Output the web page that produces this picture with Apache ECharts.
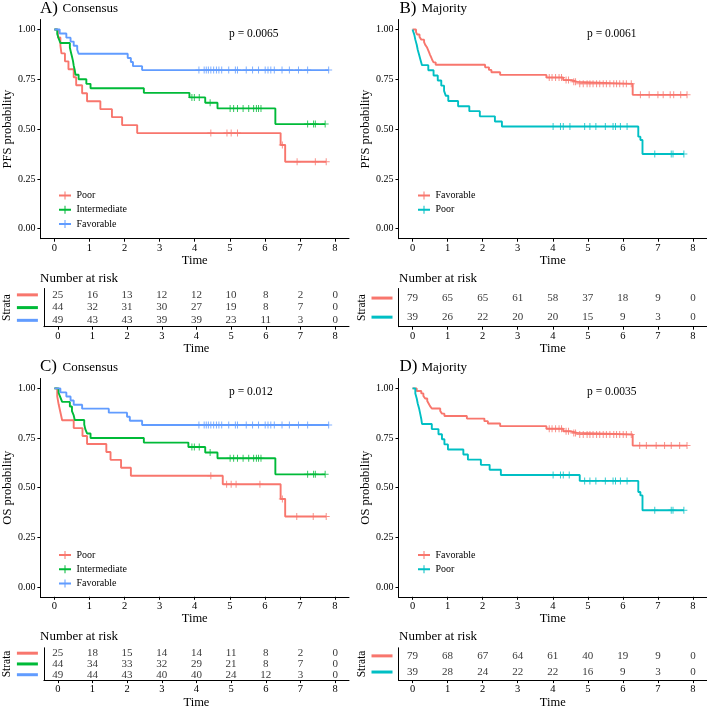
<!DOCTYPE html>
<html><head><meta charset="utf-8">
<script src="https://cdn.jsdelivr.net/npm/echarts@6/dist/echarts.min.js"></script>
<style>html,body{margin:0;padding:0;background:#fff}#c{width:707px;height:710px}</style>
</head><body><div id="c"></div>
<script>
// ---------- tick labels ----------
const xTicks = [0, 1, 2, 3, 4, 5, 6, 7, 8];
const yTicks = [0, 0.25, 0.5, 0.75, 1];

// ---------- colours ----------
const RED = '#F8766D', GREEN = '#00BA38', BLUE = '#619CFF', CYAN = '#00BFC4';

// ---------- Panel A: PFS, Consensus ----------
const aPoorT = [0, 0.1, 0.17, 0.2, 0.3, 0.4, 0.55, 0.62, 0.79, 0.93, 1.31, 1.64, 1.93, 2.36, 6.45, 6.58, 7.75];
const aPoorS = [1, 0.96, 0.92, 0.88, 0.84, 0.80, 0.76, 0.72, 0.68, 0.64, 0.60, 0.56, 0.52, 0.48, 0.42, 0.336, 0.336];
const aPoorC = [4.46, 4.92, 5.04, 5.22, 6.5, 6.92, 7.44, 7.75];
const aIntT = [0, 0.08, 0.12, 0.17, 0.44, 0.47, 0.5, 0.53, 0.55, 0.58, 0.6, 0.69, 0.91, 1.03, 2.55, 3.85, 4.3, 4.65, 6.3, 7.72];
const aIntS = [1, 0.977, 0.955, 0.932, 0.909, 0.886, 0.864, 0.841, 0.818, 0.795, 0.773, 0.750, 0.727, 0.705, 0.682, 0.659, 0.632, 0.604, 0.525, 0.525];
const aIntC = [3.92, 3.99, 4.13, 4.44, 5.01, 5.11, 5.22, 5.38, 5.54, 5.68, 5.76, 5.82, 5.89, 7.22, 7.39, 7.44, 7.72];
const aFavT = [0, 0.15, 0.34, 0.46, 0.55, 0.65, 0.69, 2.09, 2.18, 2.24, 2.5, 7.82];
const aFavS = [1, 0.980, 0.959, 0.939, 0.918, 0.898, 0.878, 0.857, 0.837, 0.816, 0.796, 0.796];
const aFavC = [4.12, 4.27, 4.33, 4.39, 4.46, 4.54, 4.62, 4.69, 4.77, 4.97, 5.16, 5.22, 5.47, 5.65, 5.82, 6.01, 6.09, 6.17, 6.27, 6.49, 6.70, 6.96, 7.22, 7.82];
const aRiskPoor = [25, 16, 13, 12, 12, 10, 8, 2, 0];
const aRiskInt = [44, 32, 31, 30, 27, 19, 8, 7, 0];
const aRiskFav = [49, 43, 43, 39, 39, 23, 11, 3, 0];

// ---------- Panel B: PFS, Majority ----------
const bFavT = [0, 0.1, 0.13, 0.2, 0.25, 0.33, 0.36, 0.41, 0.44, 0.47, 0.5, 0.53, 0.56, 0.6, 0.66, 2.07, 2.18, 2.25, 2.5, 3.82, 4.3, 4.55, 4.7, 6.28, 7.83];
const bFavS = [1, 0.987, 0.975, 0.962, 0.949, 0.937, 0.924, 0.911, 0.899, 0.886, 0.873, 0.861, 0.848, 0.835, 0.823, 0.810, 0.797, 0.785, 0.772, 0.759, 0.746, 0.737, 0.727, 0.672, 0.672];
const bFavC = [3.9, 3.98, 4.08, 4.18, 4.25, 4.38, 4.45, 4.6, 4.65, 4.77, 4.87, 4.98, 5.06, 5.15, 5.25, 5.34, 5.44, 5.53, 5.63, 5.74, 5.82, 5.91, 6.01, 6.1, 6.24, 6.5, 6.75, 7.0, 7.15, 7.35, 7.45, 7.65, 7.83];
const bPoorT = [0, 0.05, 0.08, 0.12, 0.15, 0.19, 0.23, 0.27, 0.45, 0.6, 0.72, 0.82, 0.9, 0.95, 1.02, 1.3, 1.62, 1.92, 2.35, 2.55, 6.44, 6.5, 6.56, 7.74];
const bPoorS = [1, 0.974, 0.949, 0.923, 0.897, 0.872, 0.846, 0.821, 0.795, 0.769, 0.744, 0.718, 0.692, 0.667, 0.641, 0.615, 0.590, 0.564, 0.538, 0.513, 0.462, 0.445, 0.375, 0.375];
const bPoorC = [4.01, 4.22, 4.3, 4.49, 4.91, 5.06, 5.23, 5.5, 5.72, 5.79, 5.93, 6.12, 6.91, 7.38, 7.43, 7.74];
const bRiskFav = [79, 65, 65, 61, 58, 37, 18, 9, 0];
const bRiskPoor = [39, 26, 22, 20, 20, 15, 9, 3, 0];

// ---------- Panel C: OS, Consensus ----------
const cPoorT = [0, 0.08, 0.12, 0.17, 0.22, 0.55, 0.8, 0.93, 1.48, 1.6, 1.9, 2.18, 4.8, 6.45, 6.58, 7.75];
const cPoorS = [1, 0.96, 0.92, 0.88, 0.84, 0.80, 0.76, 0.72, 0.68, 0.64, 0.60, 0.56, 0.517, 0.443, 0.355, 0.355];
const cPoorC = [4.46, 4.91, 5.04, 5.18, 5.86, 6.5, 6.91, 7.38, 7.75];
const cIntT = [0, 0.12, 0.17, 0.22, 0.44, 0.5, 0.55, 0.58, 0.85, 0.88, 0.93, 1.03, 2.55, 3.82, 4.3, 4.65, 6.3, 7.72];
const cIntS = [1, 0.977, 0.955, 0.932, 0.909, 0.886, 0.864, 0.841, 0.818, 0.795, 0.773, 0.750, 0.727, 0.705, 0.677, 0.648, 0.567, 0.567];
const cIntC = [3.92, 3.99, 4.13, 4.44, 5.01, 5.11, 5.22, 5.38, 5.54, 5.68, 5.76, 5.82, 5.89, 7.22, 7.39, 7.44, 7.72];
const cFavT = [0, 0.17, 0.34, 0.46, 0.55, 0.79, 1.55, 2.07, 2.15, 2.5, 7.82];
const cFavS = [1, 0.980, 0.959, 0.939, 0.918, 0.898, 0.878, 0.857, 0.837, 0.816, 0.816];
const cFavC = [4.12, 4.27, 4.33, 4.39, 4.46, 4.54, 4.62, 4.69, 4.77, 4.97, 5.16, 5.22, 5.47, 5.65, 5.82, 6.01, 6.09, 6.17, 6.27, 6.49, 6.70, 6.96, 7.22, 7.82];
const cRiskPoor = [25, 18, 15, 14, 14, 11, 8, 2, 0];
const cRiskInt = [44, 34, 33, 32, 29, 21, 8, 7, 0];
const cRiskFav = [49, 44, 43, 40, 40, 24, 12, 3, 0];

// ---------- Panel D: OS, Majority ----------
const dFavT = [0, 0.12, 0.25, 0.31, 0.36, 0.42, 0.46, 0.5, 0.55, 0.79, 0.84, 0.91, 1.55, 2.05, 2.15, 2.5, 3.82, 4.3, 4.5, 4.7, 6.28, 7.83];
const dFavS = [1, 0.987, 0.975, 0.962, 0.949, 0.937, 0.924, 0.911, 0.899, 0.886, 0.873, 0.861, 0.848, 0.835, 0.823, 0.810, 0.797, 0.784, 0.776, 0.768, 0.712, 0.712];
const dFavC = [3.9, 3.98, 4.08, 4.18, 4.25, 4.38, 4.45, 4.6, 4.65, 4.77, 4.87, 4.98, 5.06, 5.15, 5.25, 5.34, 5.44, 5.53, 5.63, 5.74, 5.82, 5.91, 6.01, 6.1, 6.24, 6.48, 6.67, 6.95, 7.19, 7.38, 7.62, 7.83];
const dPoorT = [0, 0.08, 0.12, 0.15, 0.19, 0.22, 0.25, 0.27, 0.55, 0.74, 0.84, 0.91, 1.01, 1.45, 1.58, 1.95, 2.2, 2.52, 4.77, 6.44, 6.5, 6.56, 7.74];
const dPoorS = [1, 0.974, 0.949, 0.923, 0.897, 0.872, 0.846, 0.821, 0.795, 0.769, 0.744, 0.718, 0.692, 0.667, 0.641, 0.615, 0.590, 0.564, 0.534, 0.478, 0.461, 0.386, 0.386];
const dPoorC = [4.01, 4.22, 4.3, 4.47, 4.91, 5.06, 5.23, 5.5, 5.72, 5.79, 5.93, 6.12, 6.91, 7.38, 7.43, 7.74];
const dRiskFav = [79, 68, 67, 64, 61, 40, 19, 9, 0];
const dRiskPoor = [39, 28, 24, 22, 22, 16, 9, 3, 0];

// ---------- assemble ----------
const FONT = 'Liberation Serif';
const panels = [
  {key: 'A', letter: 'A)', sub: 'Consensus', ylab: 'PFS probability', p: 'p = 0.0065', strata: [
    {name: 'Poor', color: RED, T: aPoorT, S: aPoorS, C: aPoorC, risk: aRiskPoor},
    {name: 'Intermediate', color: GREEN, T: aIntT, S: aIntS, C: aIntC, risk: aRiskInt},
    {name: 'Favorable', color: BLUE, T: aFavT, S: aFavS, C: aFavC, risk: aRiskFav}]},
  {key: 'B', letter: 'B)', sub: 'Majority', ylab: 'PFS probability', p: 'p = 0.0061', strata: [
    {name: 'Favorable', color: RED, T: bFavT, S: bFavS, C: bFavC, risk: bRiskFav},
    {name: 'Poor', color: CYAN, T: bPoorT, S: bPoorS, C: bPoorC, risk: bRiskPoor}]},
  {key: 'C', letter: 'C)', sub: 'Consensus', ylab: 'OS probability', p: 'p = 0.012', strata: [
    {name: 'Poor', color: RED, T: cPoorT, S: cPoorS, C: cPoorC, risk: cRiskPoor},
    {name: 'Intermediate', color: GREEN, T: cIntT, S: cIntS, C: cIntC, risk: cRiskInt},
    {name: 'Favorable', color: BLUE, T: cFavT, S: cFavS, C: cFavC, risk: cRiskFav}]},
  {key: 'D', letter: 'D)', sub: 'Majority', ylab: 'OS probability', p: 'p = 0.0035', strata: [
    {name: 'Favorable', color: RED, T: dFavT, S: dFavS, C: dFavC, risk: dRiskFav},
    {name: 'Poor', color: CYAN, T: dPoorT, S: dPoorS, C: dPoorC, risk: dRiskPoor}]}
];

const layout = [
  {plot: {left: 40, top: 19.5, width: 309, height: 219.2}, table: {left: 40, top: 288.5, width: 309, height: 38.2},
   legend: {left: 59, top: 190.5}, letter: {left: 40, top: 0}, sub: {left: 62.5, top: 2.5}, p: {left: 229, top: 27.5}, nar: {left: 40, top: 272.5}},
  {plot: {left: 398.5, top: 19.5, width: 309, height: 219.2}, table: {left: 398.5, top: 288.5, width: 309, height: 38.2},
   legend: {left: 418, top: 190.5}, letter: {left: 399.5, top: 0}, sub: {left: 421.5, top: 2.5}, p: {left: 587, top: 27.5}, nar: {left: 399, top: 272.5}},
  {plot: {left: 40, top: 378.5, width: 309, height: 218.3}, table: {left: 40, top: 647.8, width: 309, height: 38.6},
   legend: {left: 59, top: 550}, letter: {left: 40, top: 358.4}, sub: {left: 62.5, top: 360.9}, p: {left: 229, top: 385.5}, nar: {left: 40, top: 630}},
  {plot: {left: 398.5, top: 378.5, width: 309, height: 218.3}, table: {left: 398.5, top: 647.8, width: 309, height: 38.6},
   legend: {left: 418, top: 550}, letter: {left: 399.5, top: 358.4}, sub: {left: 421.5, top: 360.9}, p: {left: 587, top: 385.5}, nar: {left: 399, top: 630}}
];

const CROSS = 'path://M3,0H4V3H7V4H4V7H3V4H0V3H3Z';
const LEGICON = 'path://M0,3H5.5V0H6.5V3H12V5H6.5V8H5.5V5H0Z';

function survAt(T, S, t) { let v = S[0]; for (let i = 0; i < T.length; i++) { if (T[i] <= t) v = S[i]; } return v; }

function xAx(gi) {
  return {type: 'value', gridIndex: gi, min: -0.4, max: 8.4, name: 'Time', nameLocation: 'middle', nameGap: 13,
    nameTextStyle: {fontFamily: FONT, fontSize: 12.5, color: '#000'},
    axisLine: {show: true, onZero: false, lineStyle: {color: '#000', width: 1}},
    axisTick: {show: true, length: 3, customValues: xTicks, lineStyle: {color: '#000'}},
    axisLabel: {customValues: xTicks, margin: 4, fontFamily: FONT, fontSize: 10.5, color: '#000'},
    splitLine: {show: false}};
}

const grid = [], xAxis = [], yAxis = [], series = [], legend = [], title = [];
panels.forEach((P, k) => {
  const L = layout[k];
  const gi = 2 * k;
  grid.push(Object.assign({}, L.plot));
  grid.push(Object.assign({}, L.table));
  xAxis.push(xAx(gi));
  xAxis.push(xAx(gi + 1));
  yAxis.push({type: 'value', gridIndex: gi, min: -0.05, max: 1.05, name: P.ylab, nameLocation: 'middle', nameGap: 25, nameRotate: 90,
    nameTextStyle: {fontFamily: FONT, fontSize: 12.5, color: '#000'},
    axisLine: {show: true, onZero: false, lineStyle: {color: '#000', width: 1}},
    axisTick: {show: true, length: 3, customValues: yTicks, lineStyle: {color: '#000'}},
    axisLabel: {customValues: yTicks, formatter: v => Number(v).toFixed(2), margin: 5, fontFamily: FONT, fontSize: 10, color: '#000'},
    splitLine: {show: false}});
  const rich = {};
  P.strata.forEach((s, j) => { rich['r' + j] = {width: 21, height: 3, lineHeight: 3, fontSize: 1, backgroundColor: s.color}; });
  yAxis.push({type: 'category', gridIndex: gi + 1, data: P.strata.map((s, j) => 'r' + j), inverse: true,
    name: 'Strata', nameLocation: 'middle', nameRotate: 90, nameGap: 27,
    nameTextStyle: {fontFamily: FONT, fontSize: 11.5, color: '#000'},
    axisLine: {show: true, onZero: false, lineStyle: {color: '#000', width: 1}},
    axisTick: {show: false},
    axisLabel: {interval: 0, margin: 6, formatter: v => '{' + v + '| }', rich: rich},
    splitLine: {show: false}});
  const names = [];
  P.strata.forEach((s, j) => {
    const nm = P.key + '|' + s.name;
    names.push(nm);
    series.push({type: 'line', name: nm, xAxisIndex: gi, yAxisIndex: gi, step: 'end', showSymbol: false, symbol: 'none',
      data: s.T.map((t, i) => [t, s.S[i]]), lineStyle: {color: s.color, width: 1.9}, itemStyle: {color: s.color},
      animation: false, z: 2 + j});
    series.push({type: 'scatter', name: nm, xAxisIndex: gi, yAxisIndex: gi, symbol: CROSS, symbolSize: 7,
      data: s.C.map(t => [t, survAt(s.T, s.S, t)]), itemStyle: {color: s.color}, silent: true, animation: false, z: 3 + j});
    series.push({type: 'scatter', name: P.key + '-risk-' + j, xAxisIndex: gi + 1, yAxisIndex: gi + 1, symbolSize: 1,
      itemStyle: {color: 'rgba(0,0,0,0)'}, silent: true, animation: false,
      data: s.risk.map((v, i) => [xTicks[i], 'r' + j, v]),
      label: {show: true, position: 'inside', formatter: p => String(p.value[2]), fontFamily: FONT, fontSize: 11, color: '#000'}});
  });
  legend.push({data: names, left: L.legend.left, top: L.legend.top, orient: 'vertical', icon: LEGICON,
    itemWidth: 13, itemHeight: 8, itemGap: 4.3, padding: 0, selectedMode: false,
    formatter: n => n.split('|')[1], textStyle: {fontFamily: FONT, fontSize: 10, color: '#000'}});
  const ts = (fs) => ({fontFamily: FONT, fontSize: fs, fontWeight: 'normal', color: '#000'});
  title.push({text: P.letter, left: L.letter.left, top: L.letter.top, padding: 0, textStyle: ts(17)});
  title.push({text: P.sub, left: L.sub.left, top: L.sub.top, padding: 0, textStyle: ts(13)});
  title.push({text: P.p, left: L.p.left, top: L.p.top, padding: 0, textStyle: ts(11.5)});
  title.push({text: 'Number at risk', left: L.nar.left, top: L.nar.top, padding: 0, textStyle: ts(13)});
});

const chart = echarts.init(document.getElementById('c'), null, {renderer: 'canvas'});
chart.setOption({backgroundColor: '#fff', animation: false, title, legend, grid, xAxis, yAxis, series});
</script></body></html>
